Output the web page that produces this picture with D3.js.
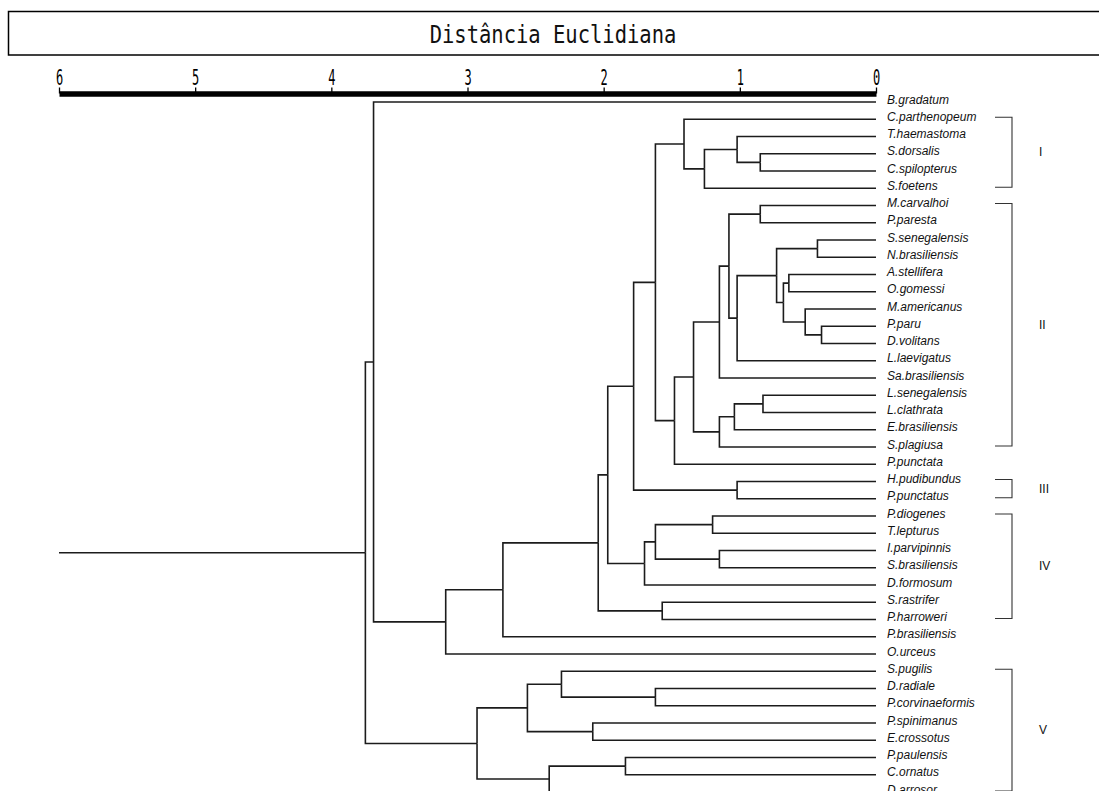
<!DOCTYPE html>
<html>
<head>
<meta charset="utf-8">
<script src="https://cdn.jsdelivr.net/npm/d3@7"></script>
<style>
  html, body { margin: 0; padding: 0; background: #fff; }
  svg { display: block; }
</style>
</head>
<body>
<svg id="chart" width="1099" height="791"></svg>
<script>
// ---------------- DATA ----------------
const title = "Distância Euclidiana";
const tickValues = [6, 5, 4, 3, 2, 1, 0];

// Leaf order, top to bottom
const leaves = [
  "B.gradatum", "C.parthenopeum", "T.haemastoma", "S.dorsalis", "C.spilopterus",
  "S.foetens", "M.carvalhoi", "P.paresta", "S.senegalensis", "N.brasiliensis",
  "A.stellifera", "O.gomessi", "M.americanus", "P.paru", "D.volitans",
  "L.laevigatus", "Sa.brasiliensis", "L.senegalensis", "L.clathrata", "E.brasiliensis",
  "S.plagiusa", "P.punctata", "H.pudibundus", "P.punctatus", "P.diogenes",
  "T.lepturus", "I.parvipinnis", "S.brasiliensis", "D.formosum", "S.rastrifer",
  "P.harroweri", "P.brasiliensis", "O.urceus", "S.pugilis", "D.radiale",
  "P.corvinaeformis", "P.spinimanus", "E.crossotus", "P.paulensis", "C.ornatus",
  "D.arrosor"
];

// Merges: [id, upper child, lower child, euclidean distance]
const merges = [
  ["R",  "S.dorsalis", "C.spilopterus", 0.85],
  ["Q",  "T.haemastoma", "R", 1.02],
  ["P",  "Q", "S.foetens", 1.26],
  ["N",  "C.parthenopeum", "P", 1.41],
  ["Y",  "M.carvalhoi", "P.paresta", 0.85],
  ["AB", "S.senegalensis", "N.brasiliensis", 0.43],
  ["AD", "A.stellifera", "O.gomessi", 0.64],
  ["AF", "P.paru", "D.volitans", 0.40],
  ["AE", "M.americanus", "AF", 0.52],
  ["AC", "AD", "AE", 0.68],
  ["AA", "AB", "AC", 0.73],
  ["Z",  "AA", "L.laevigatus", 1.02],
  ["X",  "Y", "Z", 1.08],
  ["T",  "X", "Sa.brasiliensis", 1.15],
  ["W",  "L.senegalensis", "L.clathrata", 0.83],
  ["V2", "W", "E.brasiliensis", 1.04],
  ["U",  "V2", "S.plagiusa", 1.15],
  ["S",  "T", "U", 1.34],
  ["O",  "S", "P.punctata", 1.48],
  ["L",  "N", "O", 1.62],
  ["M",  "H.pudibundus", "P.punctatus", 1.02],
  ["G",  "L", "M", 1.78],
  ["J",  "P.diogenes", "T.lepturus", 1.20],
  ["K",  "I.parvipinnis", "S.brasiliensis", 1.15],
  ["I",  "J", "K", 1.62],
  ["H",  "I", "D.formosum", 1.70],
  ["E",  "G", "H", 1.97],
  ["F",  "S.rastrifer", "P.harroweri", 1.57],
  ["D",  "E", "F", 2.04],
  ["C",  "D", "P.brasiliensis", 2.74],
  ["B",  "C", "O.urceus", 3.16],
  ["A",  "B.gradatum", "B", 3.69],
  ["VD", "D.radiale", "P.corvinaeformis", 1.62],
  ["VB", "S.pugilis", "VD", 2.31],
  ["VC", "P.spinimanus", "E.crossotus", 2.08],
  ["VA", "VB", "VC", 2.56],
  ["VF", "P.paulensis", "C.ornatus", 1.84],
  ["VE", "VF", "D.arrosor", 2.40],
  ["V",  "VA", "VE", 2.93],
  ["ROOT", "A", "V", 3.75]
];
const rootStemTo = 6.0;

// Groups: [label, first leaf, last leaf]
const groups = [
  ["I",   "C.parthenopeum", "S.foetens"],
  ["II",  "M.carvalhoi", "S.plagiusa"],
  ["III", "H.pudibundus", "P.punctatus"],
  ["IV",  "P.diogenes", "P.harroweri"],
  ["V",   "S.pugilis", "D.arrosor"]
];

// ---------------- LAYOUT ----------------
const svg = d3.select("#chart");
const x = d3.scaleLinear().domain([6, 0]).range([59, 876]);
const y = d3.scalePoint().domain(leaves).range([102, 792]);

// Build hierarchy
const nodeMap = {};
leaves.forEach(n => nodeMap[n] = { name: n, height: 0 });
merges.forEach(([id, a, b, h]) => {
  nodeMap[id] = { name: id, height: h, children: [nodeMap[a], nodeMap[b]] };
});
const root = d3.hierarchy(nodeMap["ROOT"]);
root.eachAfter(d => {
  d.px = x(d.data.height);
  if (d.children) d.py = d3.mean(d.children, c => c.py);
  else d.py = y(d.data.name);
});

// Title box
svg.append("rect")
  .attr("x", 8.5).attr("y", 11.5)
  .attr("width", 1100).attr("height", 43.5)
  .attr("fill", "none").attr("stroke", "#000").attr("stroke-width", 1.5);

svg.append("text")
  .attr("transform", "translate(553,43) scale(1,1.25)")
  .attr("text-anchor", "middle")
  .attr("font-family", "DejaVu Sans Mono, monospace")
  .attr("font-size", 20.5)
  .attr("fill", "#111")
  .text(title);

// Axis
const axisG = svg.append("g")
  .attr("transform", "translate(0,93.5)")
  .call(d3.axisTop(x).tickValues(tickValues).tickSize(6).tickSizeOuter(0).tickFormat(d3.format("d")));
axisG.select(".domain").attr("stroke", "#000").attr("stroke-width", 5.5);
axisG.selectAll(".tick line").attr("stroke", "#000").attr("stroke-width", 1.3);
axisG.selectAll(".tick text")
  .attr("y", 0).attr("dy", 0)
  .attr("transform", "translate(0,-8.5) scale(1,1.75)")
  .attr("font-family", "DejaVu Sans Mono, monospace")
  .attr("font-size", 12)
  .attr("fill", "#000");

// Tree links
const linkG = svg.append("g")
  .attr("fill", "none").attr("stroke", "#1c1c1c").attr("stroke-width", 1.6);
root.descendants().forEach(d => {
  if (!d.parent) return;
  linkG.append("path")
    .attr("d", `M${d.px},${d.py}H${d.parent.px}V${d.parent.py}`);
});
// Root stem
linkG.append("path")
  .attr("d", `M${root.px},${root.py}H${x(rootStemTo)}`);

// Leaf labels
svg.append("g")
  .selectAll("text")
  .data(leaves)
  .join("text")
  .attr("x", x(0) + 11)
  .attr("y", d => y(d) + 1.5)
  .attr("font-family", "Liberation Sans, Arial, sans-serif")
  .attr("font-style", "italic")
  .attr("font-size", 12)
  .attr("fill", "#111")
  .text(d => d);

// Group brackets
const bx = 1012, bxl = 995;
const brG = svg.append("g");
groups.forEach(([lab, a, b]) => {
  const y0 = y(a) - 2, y1 = y(b) - 1;
  brG.append("path")
    .attr("d", `M${bxl},${y0}H${bx}V${y1}H${bxl}`)
    .attr("fill", "none").attr("stroke", "#333").attr("stroke-width", 1.1);
  brG.append("text")
    .attr("x", 1039)
    .attr("y", (y0 + y1) / 2 + 4)
    .attr("font-family", "Liberation Sans, Arial, sans-serif")
    .attr("font-size", 12)
    .attr("fill", "#111")
    .text(lab);
});
</script>
</body>
</html>
